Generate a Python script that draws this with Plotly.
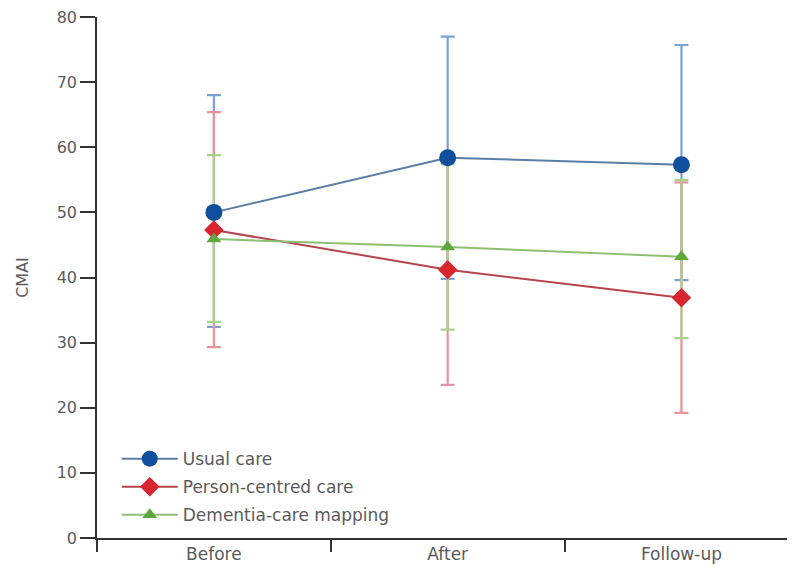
import plotly.graph_objects as go

categories = ["Before", "After", "Follow-up"]

usual_mean = [50.0, 58.4, 57.3]
usual_upper = [68.0, 77.0, 75.7]
usual_lower = [32.4, 39.8, 39.6]

person_mean = [47.3, 41.2, 36.9]
person_upper = [65.4, 58.9, 54.6]
person_lower = [29.3, 23.5, 19.2]

dcm_mean = [45.9, 44.7, 43.2]
dcm_upper = [58.8, 57.4, 55.0]
dcm_lower = [33.2, 32.0, 30.7]

series = [
    ("Usual care", usual_mean, usual_upper, usual_lower,
     "#0f4f9c", "#5b7ea6", "#7aa0d6", "circle", 17),
    ("Person-centred care", person_mean, person_upper, person_lower,
     "#d8252e", "#b5454b", "#e8929b", "diamond", 15),
    ("Dementia-care mapping", dcm_mean, dcm_upper, dcm_lower,
     "#5fa63f", "#8cbf72", "#a9d18e", "triangle-up", 13),
]

FONT = "DejaVu Sans, Verdana, sans-serif"
TXT = "#5a5a5a"

fig = go.Figure()

# error bars first (so markers sit on top)
for name, m, up, lo, mc, lc, ec, sym, sz in series:
    fig.add_trace(go.Scatter(
        x=categories, y=m, mode="markers",
        marker=dict(size=1, color="rgba(0,0,0,0)"),
        error_y=dict(type="data", symmetric=False,
                     array=[u - v for u, v in zip(up, m)],
                     arrayminus=[v - l for v, l in zip(m, lo)],
                     color=ec, thickness=2.2, width=7),
        showlegend=False, hoverinfo="skip"))

for i, (name, m, up, lo, mc, lc, ec, sym, sz) in enumerate(series):
    fig.add_trace(go.Scatter(
        x=categories, y=m, mode="lines+markers", name=name,
        legendgroup="g%d" % i,
        line=dict(color=lc, width=2),
        marker=dict(symbol=sym, size=sz, color=mc)))

fig.update_layout(
    width=795, height=574,
    margin=dict(l=89, r=0, t=9, b=44),
    paper_bgcolor="white", plot_bgcolor="white",
    font=dict(family=FONT, color=TXT, size=16),
    legend=dict(x=0.028, y=0.186, xanchor="left", yanchor="top",
                bgcolor="rgba(0,0,0,0)", font=dict(size=17, color=TXT),
                tracegroupgap=3, itemwidth=56),
    xaxis=dict(type="category", range=[-0.5, 2.52], tickson="boundaries",
               showline=True, linecolor="#333", linewidth=1.5,
               ticks="outside", ticklen=12, tickwidth=1.5, tickcolor="#333",
               showgrid=False, zeroline=False, tickfont=dict(size=17, color=TXT)),
    yaxis=dict(range=[0, 80], tickvals=[0, 10, 20, 30, 40, 50, 60, 70, 80],
               ticklabeloverflow="allow",
               showline=True, linecolor="#333", linewidth=1.5,
               ticks="outside", ticklen=15, tickwidth=1.5, tickcolor="#333",
               showgrid=False, zeroline=False, tickfont=dict(size=16, color=TXT),
               title=dict(text="CMAI", font=dict(size=16, color=TXT), standoff=24)),
)

fig.write_html("out.html")
